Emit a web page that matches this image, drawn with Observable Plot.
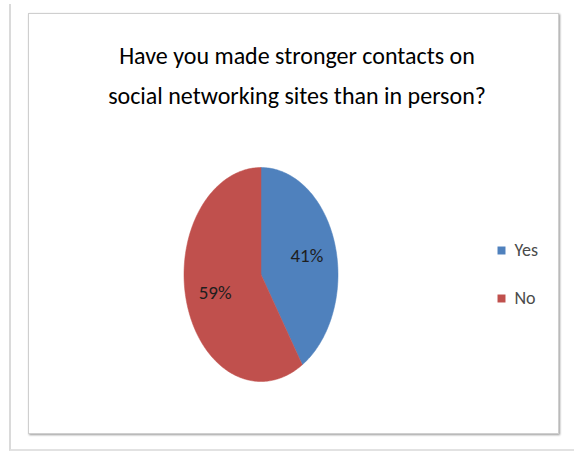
<!DOCTYPE html>
<html><head><meta charset="utf-8">
<script src="https://cdn.jsdelivr.net/npm/d3@7"></script>
<script src="https://cdn.jsdelivr.net/npm/@observablehq/plot@0.6"></script>
<style>
body{margin:0;background:#fff;width:574px;height:452px;position:relative;overflow:hidden;font-family:Carlito,"Open Sans",sans-serif}
#outer{position:absolute;left:9px;top:4px;width:600px;height:445px;border-left:2px solid #dadada;border-bottom:2px solid #e2e2e2}
#box{position:absolute;left:28px;top:13px;width:529px;height:419px;border:1px solid #cfcfcf;box-shadow:1px 1px 2px #9a9a9a;background:#fff}
#title{position:absolute;left:30px;width:534px;top:36px;text-align:center;font-size:24px;line-height:40px;color:#000}
#pie{position:absolute;left:0;top:0}
#legend{position:absolute;left:490px;top:225px}
</style>
</head><body>
<div id="outer"></div>
<div id="box"></div>
<div id="pie"></div>
<div id="title">Have you made stronger contacts on<br>social networking sites than in person?</div>
<div id="legend"></div>
<script>
const categories = ["Yes", "No"];
const values = [41, 59];
const labels = ["41%", "59%"];
const colors = ["#4F81BD", "#C0504D"];

const FONT = "Carlito, Open Sans, sans-serif";
const arcs = d3.pie().sort(null)(values);
const slicePts = [];
const labelPts = [];
arcs.forEach((a, i) => {
  const cat = categories[i];
  slicePts.push({cat, x: 0, y: 0});
  const n = Math.max(2, Math.ceil((a.endAngle - a.startAngle) / (Math.PI / 180)));
  for (let k = 0; k <= n; k++) {
    const t = a.startAngle + (a.endAngle - a.startAngle) * k / n;
    slicePts.push({cat, x: Math.sin(t), y: Math.cos(t)});
  }
  slicePts.push({cat, x: 0, y: 0});
  const m = (a.startAngle + a.endAngle) / 2;
  labelPts.push({cat, text: labels[i], x: 0.62 * Math.sin(m), y: 0.62 * Math.cos(m)});
});

const pie = Plot.plot({
  width: 574, height: 452,
  margin: 0,
  style: {background: "transparent", overflow: "visible"},
  x: {domain: [-1, 1], range: [183.5, 337.5], axis: null},
  y: {domain: [-1, 1], range: [381, 167], axis: null},
  color: {domain: categories, range: colors},
  marks: [
    Plot.line(slicePts, {x: "x", y: "y", z: "cat", fill: "cat", stroke: "cat", strokeWidth: 0.5, curve: "linear"}),
    Plot.text(labelPts, {x: "x", y: "y", text: "text", fill: "#1e1e1e", fontSize: 19, fontFamily: FONT})
  ]
});
document.getElementById("pie").appendChild(pie);

const legend = Plot.plot({
  width: 70, height: 100,
  margin: 0,
  style: {background: "transparent", overflow: "visible"},
  y: {type: "point", domain: categories, range: [25, 73], padding: 0, axis: null},
  color: {domain: categories, range: colors},
  marks: [
    Plot.dot(categories, {y: d => d, fill: d => d, symbol: "square", r: 4.5, frameAnchor: "left", dx: 11}),
    Plot.text(categories, {y: d => d, text: d => d, frameAnchor: "left", dx: 24, textAnchor: "start", fill: "#4a4a4a", fontSize: 18, fontFamily: FONT})
  ]
});
document.getElementById("legend").appendChild(legend);
</script>
</body></html>
